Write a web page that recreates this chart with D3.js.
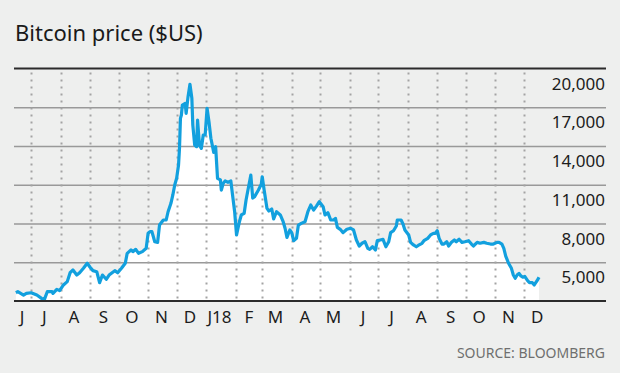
<!DOCTYPE html>
<html>
<head>
<meta charset="utf-8">
<script src="https://cdn.jsdelivr.net/npm/d3@7"></script>
<style>
    body { margin: 0; background: #eeefee; }
    text { font-family: "Noto Sans", sans-serif; }
</style>
</head>
<body>
<div id="chart"></div>
<script>
// daily closes (US$)
var priceDates = [
    "2017-06-15","2017-06-17","2017-06-23","2017-06-26","2017-07-01","2017-07-07","2017-07-12","2017-07-15",
    "2017-07-18","2017-07-23","2017-07-24","2017-07-28","2017-07-31","2017-08-04","2017-08-08","2017-08-11",
    "2017-08-14","2017-08-18","2017-08-21","2017-08-25","2017-08-29","2017-09-01","2017-09-04","2017-09-08",
    "2017-09-11","2017-09-14","2017-09-18","2017-09-21","2017-09-27","2017-09-30","2017-10-04","2017-10-08",
    "2017-10-10","2017-10-14","2017-10-16","2017-10-19","2017-10-22","2017-10-26","2017-10-30","2017-11-01",
    "2017-11-03","2017-11-05","2017-11-08","2017-11-11","2017-11-13","2017-11-17","2017-11-20","2017-11-22",
    "2017-11-25","2017-11-27","2017-11-29","2017-12-01","2017-12-03","2017-12-04","2017-12-05","2017-12-06",
    "2017-12-07","2017-12-10","2017-12-11","2017-12-13","2017-12-15","2017-12-17","2017-12-18","2017-12-20",
    "2017-12-22","2017-12-23","2017-12-25","2017-12-27","2017-12-29","2017-12-31","2018-01-02","2018-01-04",
    "2018-01-06","2018-01-09","2018-01-11","2018-01-13","2018-01-16","2018-01-17","2018-01-19","2018-01-21",
    "2018-01-24","2018-01-27","2018-01-29","2018-01-31","2018-02-02","2018-02-05","2018-02-07","2018-02-10",
    "2018-02-12","2018-02-14","2018-02-17","2018-02-19","2018-02-21","2018-02-25","2018-02-28","2018-03-01",
    "2018-03-03","2018-03-06","2018-03-08","2018-03-11","2018-03-13","2018-03-16","2018-03-20","2018-03-23",
    "2018-03-25","2018-03-27","2018-03-30","2018-04-01","2018-04-03","2018-04-06","2018-04-08","2018-04-11",
    "2018-04-15","2018-04-18","2018-04-21","2018-04-24","2018-04-27","2018-04-30","2018-05-04","2018-05-06",
    "2018-05-09","2018-05-12","2018-05-15","2018-05-17","2018-05-19","2018-05-22","2018-05-25","2018-05-29",
    "2018-06-02","2018-06-05","2018-06-08","2018-06-11","2018-06-14","2018-06-17","2018-06-20","2018-06-22",
    "2018-06-25","2018-06-28","2018-06-30","2018-07-03","2018-07-06","2018-07-09","2018-07-12","2018-07-14",
    "2018-07-17","2018-07-20","2018-07-21","2018-07-25","2018-07-27","2018-07-29","2018-08-02","2018-08-04",
    "2018-08-07","2018-08-10","2018-08-12","2018-08-16","2018-08-18","2018-08-22","2018-08-25","2018-08-28",
    "2018-08-30","2018-09-01","2018-09-03","2018-09-06","2018-09-08","2018-09-11","2018-09-13","2018-09-16",
    "2018-09-19","2018-09-21","2018-09-24","2018-09-27","2018-09-30","2018-10-04","2018-10-07","2018-10-09",
    "2018-10-13","2018-10-16","2018-10-20","2018-10-23","2018-10-27","2018-10-30","2018-11-03","2018-11-05",
    "2018-11-08","2018-11-10","2018-11-12","2018-11-15","2018-11-18","2018-11-20","2018-11-22","2018-11-24",
    "2018-11-26","2018-11-28","2018-11-30","2018-12-02","2018-12-05","2018-12-07","2018-12-10","2018-12-12",
    "2018-12-15","2018-12-17"
];
var prices = [
    2640, 2720, 2460, 2590, 2640, 2460, 2200, 2130,
    2720, 2720, 2590, 2900, 2800, 3240, 3500, 4190,
    4400, 4010, 4190, 4530, 4920, 4610, 4350, 4270,
    3420, 4010, 3680, 4010, 4350, 4190, 4530, 4920,
    5690, 5950, 5820, 6000, 5690, 5820, 6080, 7240,
    7370, 7370, 6590, 6540, 7880, 8270, 8270, 8910,
    9560, 10210, 10980, 11500, 12530, 13820, 16140, 16400,
    17170, 17300, 16530, 17820, 18780, 17690, 15620, 14070,
    13950, 16010, 14070, 13820, 14850, 14850, 16920, 15880,
    14600, 13510, 13950, 11500, 11370, 10590, 11110, 11290,
    11190, 11290, 10080, 8910, 7110, 8140, 8660, 8790,
    9820, 10590, 11750, 9970, 10080, 10590, 11040, 11620,
    10590, 9170, 8970, 9120, 8350, 8910, 8660, 8140,
    7630, 6930, 7500, 7290, 6670, 6850, 7880, 8010,
    8140, 8910, 9430, 9040, 9350, 9690, 9300, 8660,
    8840, 8270, 8270, 8400, 7700, 7550, 7290, 7550,
    7630, 7500, 6720, 6260, 6470, 6590, 6080, 6000,
    6200, 5950, 6670, 6720, 6770, 6200, 6590, 7290,
    7440, 7810, 8270, 8270, 7960, 7500, 7110, 6540,
    6340, 6200, 6300, 6470, 6670, 6850, 7110, 7240,
    7240, 7440, 6850, 6410, 6410, 6590, 6260, 6540,
    6720, 6590, 6780, 6540, 6590, 6670, 6410, 6260,
    6540, 6470, 6540, 6470, 6410, 6410, 6540, 6540,
    6410, 6080, 5480, 4920, 4530, 4010, 3760, 4010,
    4140, 3940, 3840, 3900, 3570, 3420, 3420, 3240,
    3570, 3840
];
var yTicks = [5000, 8000, 11000, 14000, 17000, 20000];
var monthLabels = ["J", "J", "A", "S", "O", "N", "D", "J18", "F", "M", "A", "M", "J", "J", "A", "S", "O", "N", "D"];

(function () {
    var width = 620, height = 373;
    var left = 14, plotRight = 539, ruleRight = 606;
    var top = 68.5, bottom = 301;

    var parse = d3.timeParse("%Y-%m-%d");
    var data = priceDates.map(function (d, i) {
        return { date: parse(d), value: prices[i] };
    });

    var svg = d3.select("#chart").append("svg")
        .attr("width", width)
        .attr("height", height);

    svg.append("rect")
        .attr("width", width)
        .attr("height", height)
        .attr("fill", "#eeefee");

    var x = d3.scaleTime()
        .domain([new Date(2017, 5, 13), new Date(2018, 11, 17)])
        .range([left, plotRight]);

    var y = d3.scaleLinear()
        .domain([2000, 20000])
        .range([bottom, top]);

    // white fill under the line
    var area = d3.area()
        .x(function (d) { return x(d.date); })
        .y0(y(2000))
        .y1(function (d) { return y(d.value); });

    svg.append("path")
        .datum(data)
        .attr("d", area)
        .attr("fill", "#fff");

    // horizontal grid
    svg.append("g")
        .attr("class", "y-grid")
        .attr("transform", "translate(" + left + ",0)")
        .call(d3.axisRight(y).tickValues(yTicks.slice(0, -1)).tickSize(ruleRight - left).tickFormat(""))
        .call(function (g) {
            g.select(".domain").remove();
            g.selectAll("line").attr("stroke", "#999").attr("stroke-width", 1.4);
        });

    // dotted month dividers
    var months = d3.timeMonth.range(new Date(2017, 6, 1), new Date(2018, 11, 2));
    svg.append("g")
        .selectAll("line")
        .data(months)
        .enter().append("line")
        .attr("x1", function (d) { return Math.round(x(d)) + 0.5; })
        .attr("x2", function (d) { return Math.round(x(d)) + 0.5; })
        .attr("y1", top + 4)
        .attr("y2", bottom)
        .attr("stroke", "#a3a3a3")
        .attr("stroke-width", 2)
        .attr("stroke-dasharray", "2,5");

    var line = d3.line()
        .x(function (d) { return x(d.date); })
        .y(function (d) { return y(d.value); });

    svg.append("path")
        .datum(data)
        .attr("d", line)
        .attr("fill", "none")
        .attr("stroke", "#12a0de")
        .attr("stroke-width", 3.2)
        .attr("stroke-linejoin", "round");

    // top and bottom rules
    [top, bottom].forEach(function (v) {
        svg.append("line")
            .attr("x1", left)
            .attr("x2", ruleRight)
            .attr("y1", v)
            .attr("y2", v)
            .attr("stroke", "#2b2b2b")
            .attr("stroke-width", 2.2);
    });

    // y labels hang below their gridline
    svg.append("g")
        .selectAll("text")
        .data(yTicks)
        .enter().append("text")
        .attr("x", 605)
        .attr("y", function (d) { return y(d) + 21; })
        .attr("text-anchor", "end")
        .attr("font-size", 17)
        .attr("fill", "#1c1c1c")
        .text(d3.format(","));

    // month labels at mid-month
    var monthStarts = d3.timeMonth.range(new Date(2017, 5, 1), new Date(2018, 11, 2));
    svg.append("g")
        .selectAll("text")
        .data(monthStarts)
        .enter().append("text")
        .attr("x", function (d) {
            var mid = new Date(d.getFullYear(), d.getMonth(), 15);
            return Math.max(x(mid), left + 8);
        })
        .attr("y", 322.5)
        .attr("text-anchor", "middle")
        .attr("font-size", 17)
        .attr("fill", "#1c1c1c")
        .text(function (d, i) { return monthLabels[i]; });

    svg.append("text")
        .attr("x", 15)
        .attr("y", 40.5)
        .attr("font-size", 22)
        .attr("fill", "#1a1a1a")
        .text("Bitcoin price ($US)");

    svg.append("text")
        .attr("x", 605)
        .attr("y", 357.5)
        .attr("text-anchor", "end")
        .attr("font-size", 14)
        .attr("fill", "#6f6f6f")
        .text("SOURCE: BLOOMBERG");
})();
</script>
</body>
</html>
